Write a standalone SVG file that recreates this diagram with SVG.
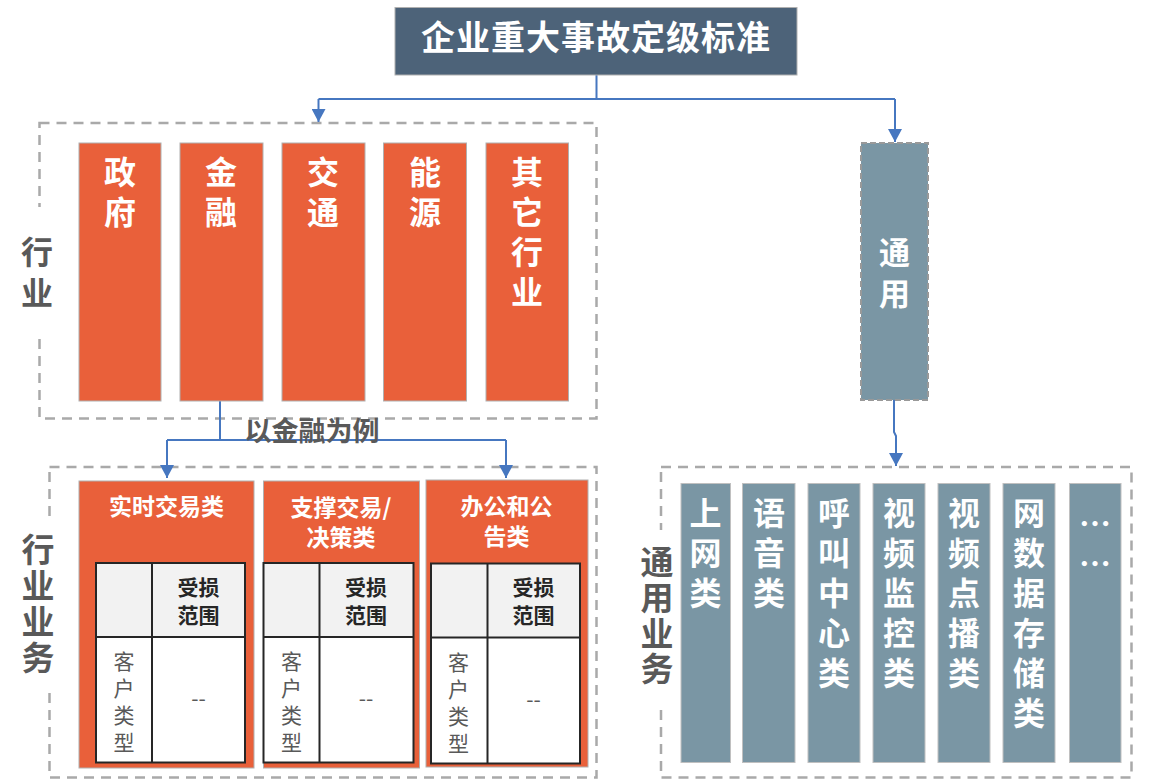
<svg xmlns="http://www.w3.org/2000/svg" width="1152" height="783" viewBox="0 0 1152 783">
<defs>
<marker id="arr" viewBox="0 0 14 15" refX="14" refY="7.5" markerWidth="15" markerHeight="14" markerUnits="userSpaceOnUse" orient="auto">
<path d="M0,0 L14,7.5 L0,15 z" fill="#4677c0"/>
</marker>
<style>
.cjk{font-family:"Noto Sans CJK SC","Noto Sans",sans-serif}
.wb{fill:#ffffff;font-weight:bold;text-anchor:middle}
.lbl{fill:#595959;font-weight:bold;text-anchor:middle}
.org{fill:#e9603a;stroke:#b0b0b0;stroke-width:1}
.gry{fill:#7a96a4;stroke:#c0c0c0;stroke-width:1}
.dash{fill:none;stroke:#a9a9a9;stroke-width:2.5;stroke-dasharray:10 7}
.conn{fill:none;stroke:#4677c0;stroke-width:2}
.tb{stroke:#262626;stroke-width:2}
.hd{fill:#262626;font-weight:bold;text-anchor:middle;font-size:21px}
.ct{fill:#595959;text-anchor:middle;font-size:21px}
</style>
</defs>
<rect width="1152" height="783" fill="#ffffff"/>

<!-- group frames -->
<g id="industry-frame">
<rect class="dash" x="39.5" y="123" width="557" height="295.5"/>
<rect x="18" y="207" width="40" height="126" fill="#ffffff"/>
<text class="cjk lbl" font-size="32"><tspan x="37" y="264">行</tspan><tspan x="37" y="305">业</tspan></text>
</g>
<g id="industry-business-frame">
<rect class="dash" x="49.5" y="467" width="547" height="310.5"/>
<rect x="22" y="520" width="50" height="170" fill="#ffffff"/>
<text class="cjk lbl" font-size="33"><tspan x="38" y="562">行</tspan><tspan x="38" y="598">业</tspan><tspan x="38" y="634">业</tspan><tspan x="38" y="670">务</tspan></text>
</g>
<g id="general-business-frame">
<rect class="dash" x="661" y="467" width="470.5" height="310.5"/>
<rect x="636" y="530" width="44" height="173" fill="#ffffff"/>
<text class="cjk lbl" font-size="33"><tspan x="657" y="574">通</tspan><tspan x="657" y="610">用</tspan><tspan x="657" y="646">业</tspan><tspan x="657" y="681">务</tspan></text>
</g>

<!-- connectors -->
<g id="connectors">
<path class="conn" d="M596.5,75 V99 M318.5,99 H895"/>
<path class="conn" d="M318.5,99 V122" marker-end="url(#arr)"/>
<path class="conn" d="M895,99 V142" marker-end="url(#arr)"/>
<path class="conn" d="M220,401 V440 M167,440 H506"/>
<path class="conn" d="M167,440 V478" marker-end="url(#arr)"/>
<path class="conn" d="M506,440 V478" marker-end="url(#arr)"/>
<path class="conn" d="M894,400 V432 L896,436 V466" marker-end="url(#arr)"/>
<text class="cjk lbl" font-size="27" x="312" y="441">以金融为例</text>
</g>

<!-- title -->
<g id="title">
<rect x="395" y="7.5" width="402" height="67.5" fill="#4d6379" stroke="#b0b0b0" stroke-width="1"/>
<text class="cjk wb" font-size="34" x="596" y="50" letter-spacing="1">企业重大事故定级标准</text>
</g>

<!-- industries -->
<g id="gov">
<rect class="org" x="79" y="143" width="82" height="258"/>
<text class="cjk wb" font-size="32"><tspan x="120" y="184">政</tspan><tspan x="120" y="224">府</tspan></text>
</g>
<g id="finance">
<rect class="org" x="180" y="143" width="83" height="258"/>
<text class="cjk wb" font-size="32"><tspan x="221" y="184">金</tspan><tspan x="221" y="224">融</tspan></text>
</g>
<g id="transport">
<rect class="org" x="282" y="143" width="83" height="258"/>
<text class="cjk wb" font-size="32"><tspan x="323" y="184">交</tspan><tspan x="323" y="224">通</tspan></text>
</g>
<g id="energy">
<rect class="org" x="383.5" y="143" width="83" height="258"/>
<text class="cjk wb" font-size="32"><tspan x="425" y="184">能</tspan><tspan x="425" y="224">源</tspan></text>
</g>
<g id="other">
<rect class="org" x="486" y="143" width="82.5" height="258"/>
<text class="cjk wb" font-size="32"><tspan x="527" y="184">其</tspan><tspan x="527" y="224">它</tspan><tspan x="527" y="264">行</tspan><tspan x="527" y="304">业</tspan></text>
</g>

<!-- general -->
<g id="general">
<rect x="861" y="143" width="67" height="257" fill="#7a96a4" stroke="#999999" stroke-width="2" stroke-dasharray="6 3"/>
<text class="cjk wb" font-size="31"><tspan x="894.5" y="264">通</tspan><tspan x="894.5" y="305">用</tspan></text>
</g>

<!-- industry business -->
<g id="realtime">
<rect class="org" x="79" y="481" width="175" height="287"/>
<text class="cjk wb" font-size="23" x="166.5" y="515">实时交易类</text>
<rect x="96" y="563" width="149" height="74" fill="#f2f2f2"/>
<rect x="96" y="637" width="149" height="125.5" fill="#ffffff"/>
<rect class="tb" x="96" y="563" width="149" height="199.5" fill="none"/>
<path class="tb" d="M96,637 H245 M152,563 V762.5"/>
<text class="cjk hd"><tspan x="198.5" y="595">受损</tspan><tspan x="198.5" y="623">范围</tspan></text>
<text class="cjk ct"><tspan x="124" y="669">客</tspan><tspan x="124" y="696">户</tspan><tspan x="124" y="723">类</tspan><tspan x="124" y="750">型</tspan></text>
<text class="cjk ct" x="198.5" y="706" fill="#333333">--</text>
</g>
<g id="support">
<rect class="org" x="263.5" y="481" width="156" height="287"/>
<text class="cjk wb" font-size="23"><tspan x="341" y="516">支撑交易/</tspan><tspan x="341" y="546">决策类</tspan></text>
<rect x="263.5" y="563" width="150" height="74" fill="#f2f2f2"/>
<rect x="263.5" y="637" width="150" height="125.5" fill="#ffffff"/>
<rect class="tb" x="263.5" y="563" width="150" height="199.5" fill="none"/>
<path class="tb" d="M263.5,637 H413.5 M319.5,563 V762.5"/>
<text class="cjk hd"><tspan x="366" y="595">受损</tspan><tspan x="366" y="623">范围</tspan></text>
<text class="cjk ct"><tspan x="291.5" y="669">客</tspan><tspan x="291.5" y="696">户</tspan><tspan x="291.5" y="723">类</tspan><tspan x="291.5" y="750">型</tspan></text>
<text class="cjk ct" x="366" y="706" fill="#333333">--</text>
</g>
<g id="office">
<rect class="org" x="426" y="480" width="162" height="287"/>
<text class="cjk wb" font-size="23"><tspan x="506.5" y="515">办公和公</tspan><tspan x="506.5" y="545">告类</tspan></text>
<rect x="431" y="563.5" width="149" height="74" fill="#f2f2f2"/>
<rect x="431" y="637.5" width="149" height="126" fill="#ffffff"/>
<rect class="tb" x="431" y="563.5" width="149" height="200" fill="none"/>
<path class="tb" d="M431,637.5 H580 M487.5,563.5 V763.5"/>
<text class="cjk hd"><tspan x="533.5" y="595">受损</tspan><tspan x="533.5" y="623">范围</tspan></text>
<text class="cjk ct"><tspan x="458.5" y="670">客</tspan><tspan x="458.5" y="697">户</tspan><tspan x="458.5" y="724">类</tspan><tspan x="458.5" y="751">型</tspan></text>
<text class="cjk ct" x="533.5" y="707" fill="#333333">--</text>
</g>

<!-- general business -->
<g id="internet">
<rect class="gry" x="681" y="483.5" width="49.5" height="279"/>
<text class="cjk wb" font-size="32"><tspan x="705.5" y="525">上</tspan><tspan x="705.5" y="565">网</tspan><tspan x="705.5" y="605">类</tspan></text>
</g>
<g id="voice">
<rect class="gry" x="742.5" y="483.5" width="52.5" height="279"/>
<text class="cjk wb" font-size="32"><tspan x="769" y="525">语</tspan><tspan x="769" y="565">音</tspan><tspan x="769" y="605">类</tspan></text>
</g>
<g id="callcenter">
<rect class="gry" x="808" y="483.5" width="52" height="279"/>
<text class="cjk wb" font-size="32"><tspan x="834" y="525">呼</tspan><tspan x="834" y="565">叫</tspan><tspan x="834" y="605">中</tspan><tspan x="834" y="645">心</tspan><tspan x="834" y="685">类</tspan></text>
</g>
<g id="surveillance">
<rect class="gry" x="873" y="483.5" width="52" height="279"/>
<text class="cjk wb" font-size="32"><tspan x="899" y="525">视</tspan><tspan x="899" y="565">频</tspan><tspan x="899" y="605">监</tspan><tspan x="899" y="645">控</tspan><tspan x="899" y="685">类</tspan></text>
</g>
<g id="vod">
<rect class="gry" x="938" y="483.5" width="52" height="279"/>
<text class="cjk wb" font-size="32"><tspan x="964" y="525">视</tspan><tspan x="964" y="565">频</tspan><tspan x="964" y="605">点</tspan><tspan x="964" y="645">播</tspan><tspan x="964" y="685">类</tspan></text>
</g>
<g id="storage">
<rect class="gry" x="1003" y="483.5" width="52" height="279"/>
<text class="cjk wb" font-size="32"><tspan x="1029" y="525">网</tspan><tspan x="1029" y="565">数</tspan><tspan x="1029" y="605">据</tspan><tspan x="1029" y="645">存</tspan><tspan x="1029" y="685">储</tspan><tspan x="1029" y="725">类</tspan></text>
</g>
<g id="more">
<rect class="gry" x="1069.5" y="483.5" width="51.5" height="279"/>
<text class="cjk wb" font-size="32"><tspan x="1095" y="536">…</tspan><tspan x="1095" y="576">…</tspan></text>
</g>
</svg>
